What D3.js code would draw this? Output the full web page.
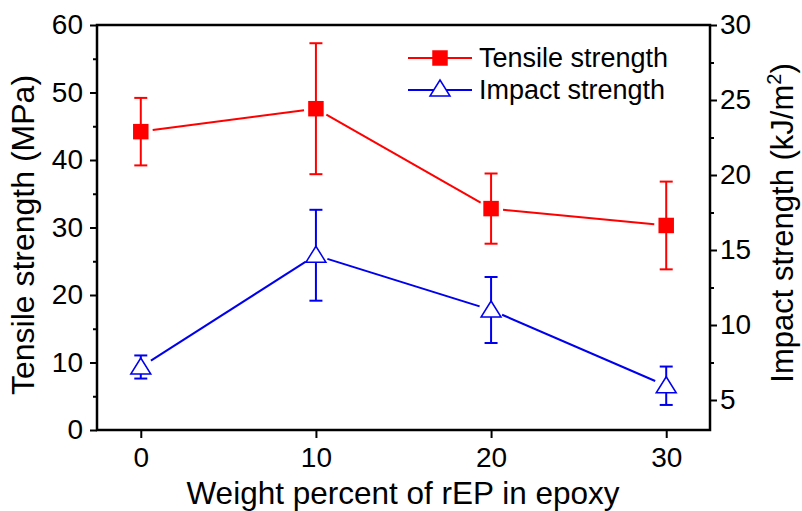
<!DOCTYPE html>
<html>
<head>
<meta charset="utf-8">
<script src="https://cdn.jsdelivr.net/npm/d3@7"></script>
<style>
  body { margin: 0; background: #fff; }
  svg { display: block; font-family: Arial, "Liberation Sans", sans-serif; }
</style>
</head>
<body>
<svg id="chart" width="802" height="511"></svg>
<script>
// Tensile / impact strength vs. rEP content

var weights = [0, 10, 20, 30];
var tensile = [44.2, 47.6, 32.8, 30.3];
var tensileErr = [5.0, 9.7, 5.2, 6.5];
var impact = [7.2, 14.65, 11.0, 5.95];
var impactErr = [0.77, 3.03, 2.2, 1.28];

var xTicks = [0, 10, 20, 30];
var leftTicks = [0, 10, 20, 30, 40, 50, 60];
var leftMinor = [5, 15, 25, 35, 45, 55];
var rightTicks = [5, 10, 15, 20, 25, 30];
var rightMinor = [7.5, 12.5, 17.5, 22.5, 27.5];

var RED = "#ff0000", BLUE = "#0000ee";
var plotL = 97, plotR = 710, plotT = 25, plotB = 430;

var svg = d3.select("#chart");

var x = d3.scaleLinear().domain([-2.5, 32.5]).range([plotL, plotR]);
var yL = d3.scaleLinear().domain([0, 60]).range([plotB, plotT]);
var yR = d3.scaleLinear().domain([3, 30]).range([plotB, plotT]);

///////////////////////////////////////////////////////////////////////////////
// Axes

var styleAxis = function (g) {
  g.select(".domain").remove();
  g.selectAll(".tick line").attr("stroke", "#000").attr("stroke-width", 2);
  g.selectAll(".tick text").attr("fill", "#000")
    .style("font-size", "28px").style("font-family", "Arial, 'Liberation Sans', sans-serif");
};

svg.append("g").attr("transform", "translate(0," + plotB + ")")
  .call(d3.axisBottom(x).tickValues(xTicks).tickSize(8).tickPadding(9))
  .call(styleAxis);

svg.append("g").attr("transform", "translate(" + plotL + ",0)")
  .call(d3.axisLeft(yL).tickValues(leftTicks).tickSize(7).tickPadding(7))
  .call(styleAxis);
svg.append("g").attr("transform", "translate(" + plotL + ",0)")
  .call(d3.axisLeft(yL).tickValues(leftMinor).tickSize(4).tickFormat(""))
  .call(styleAxis);

svg.append("g").attr("transform", "translate(" + plotR + ",0)")
  .call(d3.axisRight(yR).tickValues(rightTicks).tickSize(7).tickPadding(3))
  .call(styleAxis);
svg.append("g").attr("transform", "translate(" + plotR + ",0)")
  .call(d3.axisRight(yR).tickValues(rightMinor).tickSize(4).tickFormat(""))
  .call(styleAxis);

// frame
svg.append("rect")
  .attr("x", plotL).attr("y", plotT)
  .attr("width", plotR - plotL).attr("height", plotB - plotT)
  .attr("fill", "none").attr("stroke", "#000").attr("stroke-width", 2.5);

// axis titles
svg.append("text")
  .attr("transform", "translate(34,235) rotate(-90)")
  .attr("text-anchor", "middle")
  .style("font-size", "32px")
  .text("Tensile strength (MPa)");

var rt = svg.append("text")
  .attr("transform", "translate(793,223) rotate(-90)")
  .attr("text-anchor", "middle")
  .style("font-size", "31px");
rt.append("tspan").text("Impact strength (kJ/m");
rt.append("tspan").attr("dy", -12).style("font-size", "20px").text("2");
rt.append("tspan").attr("dy", 12).text(")");

svg.append("text")
  .attr("x", 403).attr("y", 504)
  .attr("text-anchor", "middle")
  .style("font-size", "31.5px")
  .text("Weight percent of rEP in epoxy");

///////////////////////////////////////////////////////////////////////////////
// Series

// Origin-style line: segments stop short of the markers
var drawGappedLine = function (vals, y, color, gap) {
  var pts = weights.map(function (w, i) { return [x(w), y(vals[i])]; });
  for (var i = 0; i < pts.length - 1; i++) {
    var a = pts[i], b = pts[i + 1];
    var dx = b[0] - a[0], dy = b[1] - a[1];
    var len = Math.sqrt(dx * dx + dy * dy);
    var ux = dx / len, uy = dy / len;
    svg.append("line")
      .attr("x1", a[0] + ux * gap).attr("y1", a[1] + uy * gap)
      .attr("x2", b[0] - ux * gap).attr("y2", b[1] - uy * gap)
      .attr("stroke", color).attr("stroke-width", 2);
  }
};

var drawErrors = function (vals, errs, y, color) {
  var g = svg.append("g").attr("stroke", color).attr("stroke-width", 2);
  weights.forEach(function (w, i) {
    var cx = x(w), hi = y(vals[i] + errs[i]), lo = y(vals[i] - errs[i]);
    g.append("line").attr("x1", cx).attr("x2", cx).attr("y1", hi).attr("y2", lo);
    g.append("line").attr("x1", cx - 6.5).attr("x2", cx + 6.5).attr("y1", hi).attr("y2", hi);
    g.append("line").attr("x1", cx - 6.5).attr("x2", cx + 6.5).attr("y1", lo).attr("y2", lo);
  });
};

var square = d3.symbol().type(d3.symbolSquare).size(240);
var triangle = "M0,-9L10,7L-10,7Z";

drawGappedLine(tensile, yL, RED, 12);
drawErrors(tensile, tensileErr, yL, RED);
svg.append("g").selectAll("path")
  .data(tensile)
  .join("path")
  .attr("d", square)
  .attr("transform", function (d, i) { return "translate(" + x(weights[i]) + "," + yL(d) + ")"; })
  .attr("fill", RED);

drawGappedLine(impact, yR, BLUE, 12);
drawErrors(impact, impactErr, yR, BLUE);
svg.append("g").selectAll("path")
  .data(impact)
  .join("path")
  .attr("d", triangle)
  .attr("transform", function (d, i) { return "translate(" + x(weights[i]) + "," + yR(d) + ")"; })
  .attr("fill", "#fff").attr("stroke", BLUE).attr("stroke-width", 1.5);

///////////////////////////////////////////////////////////////////////////////
// Legend

var legend = svg.append("g").attr("transform", "translate(408,58)");
legend.append("line").attr("x1", 0).attr("x2", 64).attr("y1", 0).attr("y2", 0)
  .attr("stroke", RED).attr("stroke-width", 2);
legend.append("path").attr("d", square).attr("transform", "translate(32,0)").attr("fill", RED);
legend.append("text").attr("x", 71).attr("y", 9).style("font-size", "27px").text("Tensile strength");

legend.append("line").attr("x1", 0).attr("x2", 64).attr("y1", 32).attr("y2", 32)
  .attr("stroke", BLUE).attr("stroke-width", 2);
legend.append("path").attr("d", triangle).attr("transform", "translate(32,31)")
  .attr("fill", "#fff").attr("stroke", BLUE).attr("stroke-width", 1.5);
legend.append("text").attr("x", 71).attr("y", 41).style("font-size", "27px").text("Impact strength");
</script>
</body>
</html>
